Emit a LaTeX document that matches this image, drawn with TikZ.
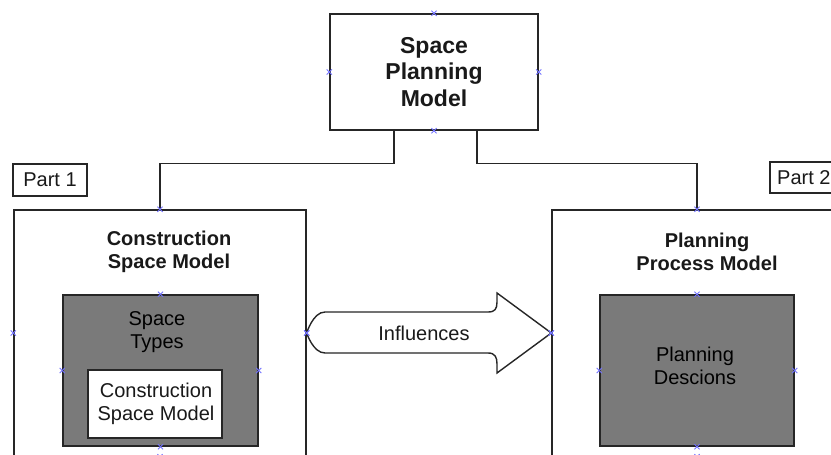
\documentclass[tikz,border=0pt]{standalone}
\usepackage{fontspec}
\setmainfont{Liberation Sans}
\begin{document}
\begin{tikzpicture}[x=1pt,y=-1pt,
  box/.style={draw=black!85, line width=1.4pt, rectangle, inner sep=0pt},
  shaded/.style={box, fill=black!52},
  plain/.style={box, fill=white},
  label/.style={align=center, text=black!90, font=\fontsize{20}{23}\selectfont},
  title/.style={label, font=\fontsize{20}{23}\selectfont\bfseries},
  wire/.style={draw=black!85, line width=1.4pt},
  xmark/.pic={\draw[blue!55!white, line width=0.9pt] (-2.6,-2.6) -- (2.6,2.6) (-2.6,2.6) -- (2.6,-2.6);}]
\useasboundingbox (0,0) rectangle (831,455);
\clip (0,0) rectangle (831,455);

% top level model
\node[plain, minimum width=208pt, minimum height=116pt] (spm) at (434,72) {};
\node[title, font=\fontsize{23}{26.5}\selectfont\bfseries] (spmt) at (434,72) {Space\\Planning\\Model};

% part labels
\node[plain, minimum width=74pt, minimum height=32pt] (p1) at (50,180) {};
\node[label] (p1t) at (50,180) {Part 1};
\node[plain, minimum width=80pt, minimum height=31pt] (p2) at (810,177.5) {};
\node[label, anchor=west, inner sep=0pt] (p2t) at (777,177.5) {Part 2};

% construction space model (part 1)
\node[plain, minimum width=292pt, minimum height=246pt] (csm) at (160,333) {};
\node[title] (csmt) at (169,252) {Construction\\Space Model};
\node[shaded, minimum width=195pt, minimum height=151pt] (st) at (160.5,370.5) {};
\node[label, text=black] (stt) at (157,332) {Space\\Types};
\node[plain, minimum width=134pt, minimum height=68pt] (inner) at (155,404) {};
\node[label] (innert) at (156,404) {Construction\\Space Model};

% planning process model (part 2)
\node[plain, minimum width=290pt, minimum height=246pt] (ppm) at (697,333) {};
\node[title] (ppmt) at (707,252) {Planning\\Process Model};
\node[shaded, minimum width=194pt, minimum height=151pt] (pd) at (697,370.5) {};
\node[label, text=black] (pdt) at (695,366) {Planning\\Descions};

% tree connectors
\draw[wire] ([xshift=-40pt]spm.south) -- ++(0,33) -| (csm.north);
\draw[wire] ([xshift=43pt]spm.south) -- ++(0,33) -| (ppm.north);

% block arrow between the two parts
\coordinate (tail) at (csm.east);
\coordinate (tip) at (ppm.west);
\draw[draw=black!85, line width=1.4pt, fill=white, line join=miter]
  (325,312) -- (488,312) .. controls (495,312) and (497,309) .. (497,302)
  -- (497,293) -- (tip) -- (497,373) -- (497,364)
  .. controls (497,357) and (495,353) .. (488,353) -- (325,353)
  .. controls (313,353) and (tail) .. (tail)
  .. controls (tail) and (313,312) .. (325,312) -- cycle;
\node[label] (inf) at (424,333) {Influences};

% connection points
\foreach \n in {spm,csm,ppm,st,pd}{
  \pic at (\n.north) {xmark};
  \pic at (\n.south) {xmark};
  \pic at (\n.east) {xmark};
  \pic at (\n.west) {xmark};
}
\pic at (tail) {xmark};
\pic at (tip) {xmark};
\end{tikzpicture}
\end{document}
